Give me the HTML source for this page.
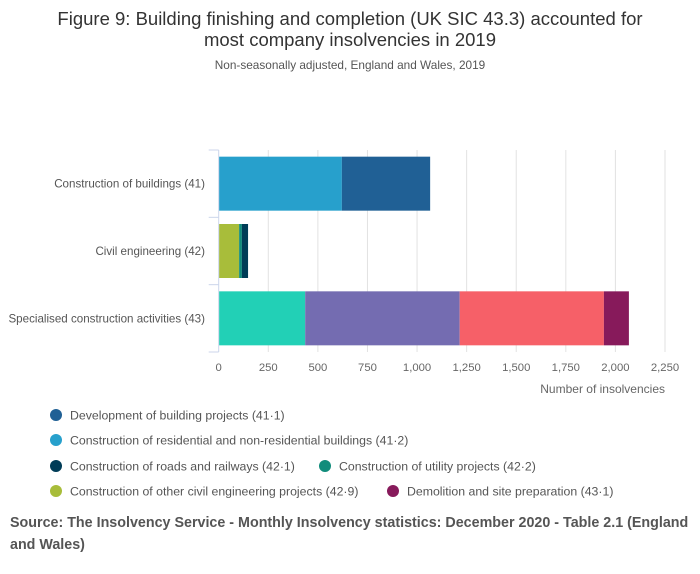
<!DOCTYPE html>
<html><head><meta charset="utf-8"><style>
html,body{margin:0;padding:0;background:#fff;width:700px;height:574px;overflow:hidden;font-family:"Liberation Sans","DejaVu Sans",sans-serif}
</style></head><body>
<svg width="700" height="574" xmlns="http://www.w3.org/2000/svg" id="chart">
<text x="350" y="25" text-anchor="middle" font-size="18.5" fill="#333">Figure 9: Building finishing and completion (UK SIC 43.3) accounted for</text>
<text x="350" y="46" text-anchor="middle" font-size="18.5" fill="#333">most company insolvencies in 2019</text>
<text x="350" y="69" text-anchor="middle" font-size="11.8" fill="#555">Non-seasonally adjusted, England and Wales, 2019</text>
<g id="grid"></g><g id="bars"></g><g id="axes"></g><g id="legend"></g>
<text x="10" y="527" font-size="14.3" font-weight="bold" fill="#555">Source: The Insolvency Service - Monthly Insolvency statistics: December 2020 - Table 2.1 (England</text>
<text x="10" y="549" font-size="14.3" font-weight="bold" fill="#555">and Wales)</text>
</svg>
<script>
const categories = ["Construction of buildings (41)", "Civil engineering (42)", "Specialised construction activities (43)"];
const segColors = [["#27a0cc","#206095"],["#a8bd3a","#118c7b","#003c57"],["#22d0b6","#746cb1","#f66068","#871a5b"]];
const segValues = [[621,445],[103,14,31],[436,779,727,126]];
const segNames = [["41.2","41.1"],["42.9","42.2","42.1"],["43.3","43.2","43.9","43.1"]];
const ticks = [0,250,500,750,1000,1250,1500,1750,2000,2250];
const tickLabels = ["0","250","500","750","1,000","1,250","1,500","1,750","2,000","2,250"];
const legendNames = ["Development of building projects (41·1)","Construction of residential and non-residential buildings (41·2)","Construction of roads and railways (42·1)","Construction of utility projects (42·2)","Construction of other civil engineering projects (42·9)","Demolition and site preparation (43·1)"];
const legendColors = ["#206095","#27a0cc","#003c57","#118c7b","#a8bd3a","#871a5b"];

const NS="http://www.w3.org/2000/svg";
const x0=218.7, x1=665, yTop=150, yBot=352;
const xs=v=>x0+(v/2250)*(x1-x0);
const band=(yBot-yTop)/3;
function mk(tag,attrs,parent){const e=document.createElementNS(NS,tag);for(const k in attrs)e.setAttribute(k,attrs[k]);document.getElementById(parent).appendChild(e);return e;}
ticks.forEach((t,i)=>{
  if(i>0){const g=mk("line",{x1:xs(t),x2:xs(t),y1:yTop,y2:yBot,stroke:"#e2e2e2","stroke-width":1},"grid");
  
  }
  const l=mk("text",{x:xs(t),y:371,"text-anchor":"middle","font-size":11.3,fill:"#666"},"axes");
  l.textContent=tickLabels[i];
  
  
});
categories.forEach((c,i)=>{
  const yc=yTop+band*(i+0.5);
  const bh=54;
  let acc=0;
  segValues[i].forEach((v,j)=>{
    const r=mk("rect",{x:xs(acc),y:yc-bh/2,width:xs(acc+v)-xs(acc),height:bh,fill:segColors[i][j]},"bars");
    
    
    acc+=v;
  });
  const t=mk("text",{x:205,y:yc+4,"text-anchor":"end","font-size":11.6,fill:"#555"},"axes");
  t.textContent=c;
  
  
});
const ax=mk("line",{x1:x0,x2:x0,y1:yTop,y2:yBot,stroke:"#ccd6eb","stroke-width":1},"axes");


for(let k=0;k<=3;k++){const y=yTop+band*k;const tk=mk("line",{x1:x0-10,x2:x0,y1:y,y2:y,stroke:"#ccd6eb","stroke-width":1},"axes");

}
const xt=mk("text",{x:665,y:393,"text-anchor":"end","font-size":12,fill:"#666"},"axes");
xt.textContent="Number of insolvencies";


const lp=[[56,415],[56,440],[56,466],[325,466],[56,491],[393,491]];
legendNames.forEach((n,i)=>{
  const c=mk("circle",{cx:lp[i][0],cy:lp[i][1],r:6,fill:legendColors[i]},"legend");
  
  
  const t=mk("text",{x:lp[i][0]+14,y:lp[i][1]+4.5,"font-size":12.3,fill:"#555"},"legend");
  t.textContent=n;
  
  
});
</script>
</body></html>
